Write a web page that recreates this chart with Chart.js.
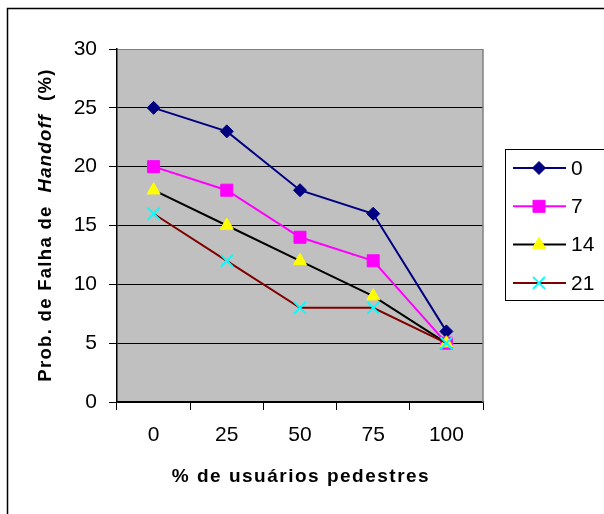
<!DOCTYPE html>
<html>
<head>
<meta charset="utf-8">
<script src="https://cdn.jsdelivr.net/npm/chart.js@4.4.1/dist/chart.umd.min.js"></script>
<style>
  html, body { margin: 0; padding: 0; background: #fff; }
  #wrap { width: 604px; height: 514px; }
  #graph { display: block; }
</style>
</head>
<body>
<div id="wrap"><canvas id="graph" width="604" height="514"></canvas></div>
<script>
// dados
const categories = ['0', '25', '50', '75', '100'];
const seriesNames = ['0', '7', '14', '21'];
const serie0 = [25, 23, 18, 16, 6];
const serie7 = [20, 18, 14, 12, 5];
const serie14 = [18, 15, 12, 9, 5];
const serie21 = [16, 12, 8, 8, 5];
const yTitle = ['Prob. de Falha de  ', 'Handoff', '  (%)'];
const xTitle = '% de usuários pedestres';

const FONT = "'Liberation Sans', Arial, sans-serif";
Chart.defaults.font.family = FONT;
Chart.defaults.color = '#000';

// fundo cinza da área de plotagem + moldura externa
const plotBackground = {
    id: 'plotBackground',
    beforeDraw(chart) {
        const {ctx, chartArea: a} = chart;
        ctx.save();
        ctx.fillStyle = '#fff';
        ctx.fillRect(0, 0, chart.width, chart.height);
        ctx.fillStyle = '#c0c0c0';
        ctx.fillRect(a.left, a.top, a.right - a.left, a.bottom - a.top);
        ctx.restore();
    },
    beforeDatasetsDraw(chart) {
        const {ctx, chartArea: a} = chart;
        ctx.save();
        ctx.strokeStyle = '#808080';
        ctx.lineWidth = 1.5;
        ctx.beginPath();
        ctx.moveTo(a.right, a.top);
        ctx.lineTo(a.right, a.bottom);
        ctx.stroke();
        ctx.restore();
    },
    afterDraw(chart) {
        const {ctx} = chart;
        ctx.save();
        ctx.strokeStyle = '#000';
        ctx.lineWidth = 1.5;
        ctx.beginPath();
        ctx.moveTo(7.5, chart.height);
        ctx.lineTo(7.5, 8.5);
        ctx.lineTo(chart.width, 8.5);
        ctx.stroke();
        ctx.restore();
    }
};

// títulos dos eixos (Handoff em itálico)
const axisTitles = {
    id: 'axisTitles',
    afterDraw(chart) {
        const {ctx, chartArea: a} = chart;
        ctx.save();
        ctx.fillStyle = '#000';
        ctx.textBaseline = 'middle';

        ctx.letterSpacing = '1.5px';
        ctx.font = 'bold 19px ' + FONT;
        ctx.textAlign = 'center';
        ctx.fillText(xTitle, (a.left + a.right) / 2 + 1, 477);

        ctx.letterSpacing = '1.3px';
        ctx.translate(46, 225);
        ctx.rotate(-Math.PI / 2);
        ctx.textAlign = 'left';
        const fonts = ['bold 18.5px ' + FONT, 'italic bold 18.5px ' + FONT, 'bold 18.5px ' + FONT];
        let total = 0;
        yTitle.forEach((t, i) => { ctx.font = fonts[i]; total += ctx.measureText(t).width; });
        let x = -total / 2;
        yTitle.forEach((t, i) => {
            ctx.font = fonts[i];
            ctx.fillText(t, x, 0);
            x += ctx.measureText(t).width;
        });
        ctx.restore();
    }
};

// legenda com caixa, linha e marcador
const boxLegend = {
    id: 'boxLegend',
    afterDraw(chart) {
        const {ctx} = chart;
        ctx.save();
        ctx.strokeStyle = '#000';
        ctx.lineWidth = 1;
        ctx.strokeRect(505.5, 149.5, 120, 151);
        chart.data.datasets.forEach((ds, i) => {
            const y = 168 + i * 38.3;
            ctx.strokeStyle = ds.borderColor;
            ctx.lineWidth = ds.borderWidth;
            ctx.beginPath();
            ctx.moveTo(513, y);
            ctx.lineTo(566, y);
            ctx.stroke();
            ctx.fillStyle = ds.pointBackgroundColor;
            ctx.strokeStyle = ds.pointBorderColor;
            ctx.lineWidth = ds.pointBorderWidth;
            Chart.helpers.drawPoint(ctx, {
                pointStyle: ds.pointStyle,
                radius: ds.pointRadius,
                borderWidth: ds.pointBorderWidth,
                rotation: 0
            }, 539, y);
            ctx.fillStyle = '#000';
            ctx.font = '21px ' + FONT;
            ctx.textBaseline = 'middle';
            ctx.textAlign = 'left';
            ctx.fillText(ds.label, 571, y + 1);
        });
        ctx.restore();
    }
};

const makeSet = (label, data, line, fill, style, radius, bw, order) => ({
    label: label,
    data: data,
    borderColor: line,
    borderWidth: 2,
    backgroundColor: fill,
    pointBackgroundColor: fill,
    pointBorderColor: fill,
    pointBorderWidth: bw,
    pointStyle: style,
    pointRadius: radius,
    pointHoverRadius: radius,
    tension: 0,
    order: order
});

new Chart(document.getElementById('graph'), {
    type: 'line',
    data: {
        labels: categories,
        datasets: [
            makeSet(seriesNames[0], serie0, '#000080', '#000080', 'rectRot', 6.5, 1, 4),
            makeSet(seriesNames[1], serie7, '#ff00ff', '#ff00ff', 'rect', 8.5, 1, 3),
            makeSet(seriesNames[2], serie14, '#000000', '#ffff00', 'triangle', 7.5, 1, 2),
            makeSet(seriesNames[3], serie21, '#800000', '#00ffff', 'crossRot', 8.5, 2, 1)
        ]
    },
    options: {
        responsive: false,
        animation: false,
        devicePixelRatio: 1,
        layout: {
            padding: {left: 0, top: 49, right: 121, bottom: 0}
        },
        plugins: {
            legend: {display: false},
            tooltip: {enabled: false}
        },
        scales: {
            x: {
                type: 'category',
                offset: true,
                afterFit(scale) { scale.height = 112; },
                grid: {
                    offset: true,
                    drawOnChartArea: false,
                    drawTicks: true,
                    tickLength: 8,
                    tickColor: '#000'
                },
                border: {display: true, color: '#000', width: 1.5},
                ticks: {
                    font: {size: 21},
                    color: '#000',
                    padding: 13,
                    maxRotation: 0
                }
            },
            y: {
                min: 0,
                max: 30,
                afterFit(scale) { scale.width = 117; },
                grid: {
                    color: (c) => c.tick && c.tick.value === 30 ? '#808080' : '#000',
                    lineWidth: 1,
                    tickLength: 8,
                    tickColor: '#000'
                },
                border: {display: true, color: '#000', width: 1.5},
                ticks: {
                    stepSize: 5,
                    font: {size: 21},
                    color: '#000',
                    padding: 12
                }
            }
        }
    },
    plugins: [plotBackground, axisTitles, boxLegend]
});
</script>
</body>
</html>
